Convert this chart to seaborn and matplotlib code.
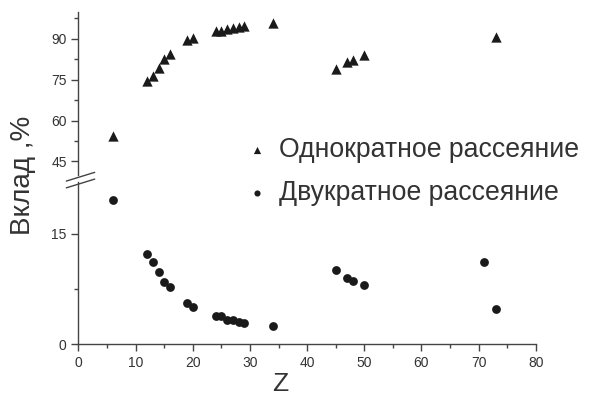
import matplotlib.pyplot as plt
import seaborn as sns
from matplotlib.ticker import MultipleLocator

sns.set_style('ticks')
plt.rcParams['font.family'] = ['Liberation Sans', 'DejaVu Sans']

# Однократное рассеяние (треугольники)
z_single   = [6, 12, 13, 14, 15, 16, 19, 20, 24, 25, 26, 27, 28, 29, 34, 45, 47, 48, 50, 73]
val_single = [54.3, 74.4, 76.2, 79.3, 82.6, 84.4, 89.4, 90.2, 93.0, 93.0, 93.6, 94.0, 94.4, 94.6, 95.7,
              78.9, 81.6, 82.3, 83.9, 90.8]

# Двукратное рассеяние (кружки)
z_double   = [6, 12, 13, 14, 15, 16, 19, 20, 24, 25, 26, 27, 28, 29, 34, 45, 47, 48, 50, 71, 73]
val_double = [19.5, 12.2, 11.2, 9.85, 8.4, 7.8, 5.6, 5.1, 3.85, 3.85, 3.35, 3.27, 3.04, 2.9, 2.5,
              10.1, 9.0, 8.55, 8.0, 11.2, 4.75]

lab_single = 'Однократное рассеяние'
lab_double = 'Двукратное рассеяние'

fig = plt.figure(figsize=(5.92, 3.98), dpi=100)
ax_top = fig.add_axes([0.1326, 0.560, 0.7724, 0.411])
ax_bot = fig.add_axes([0.1326, 0.135, 0.7724, 0.408])

col = '#1a1a1a'
sns.scatterplot(x=z_single, y=val_single, marker='^', s=55, color=col, edgecolor=col,
                linewidth=0, ax=ax_top, label=lab_single, legend=False)
sns.scatterplot(x=z_double, y=val_double, marker='o', s=40, color=col, edgecolor=col,
                linewidth=0, ax=ax_bot, label=lab_double, legend=False)

ax_top.set_xlim(0, 80)
ax_bot.set_xlim(0, 80)
ax_top.set_ylim(40, 100)
ax_bot.set_ylim(0, 22)

ax_top.set_yticks([45, 60, 75, 90])
ax_top.yaxis.set_minor_locator(MultipleLocator(7.5))
ax_bot.set_yticks([0, 15])
ax_bot.yaxis.set_minor_locator(MultipleLocator(7.5))
ax_bot.xaxis.set_major_locator(MultipleLocator(10))
ax_bot.xaxis.set_minor_locator(MultipleLocator(5))

edge = '#444444'
for ax in (ax_top, ax_bot):
    for s in ('top', 'right'):
        ax.spines[s].set_visible(False)
    for s in ('left', 'bottom'):
        ax.spines[s].set_color(edge)
        ax.spines[s].set_linewidth(1.0)
    ax.tick_params(which='major', length=5, width=1, color=edge, labelsize=10, labelcolor='#333333')
    ax.tick_params(which='minor', length=3, width=1, color=edge)
    ax.set_ylabel('')
    ax.set_xlabel('')

ax_top.spines['bottom'].set_visible(False)
ax_top.tick_params(axis='x', which='both', bottom=False, labelbottom=False)

# знак разрыва оси
kw = dict(transform=fig.transFigure, color=edge, lw=1.0, clip_on=False)
fig.add_artist(plt.Line2D([0.112, 0.160], [0.545, 0.567], **kw))
fig.add_artist(plt.Line2D([0.112, 0.160], [0.528, 0.550], **kw))

fig.text(0.473, 0.004, 'Z', fontsize=19, color='#333333', va='bottom', ha='center')
fig.text(0.039, 0.56, 'Вклад ,%', rotation=90, fontsize=20, color='#333333', va='center', ha='center')

h1, l1 = ax_top.get_legend_handles_labels()
h2, l2 = ax_bot.get_legend_handles_labels()
fig.legend(h1 + h2, l1 + l2, loc='upper left', bbox_to_anchor=(0.393, 0.683), frameon=False,
           fontsize=19.2, labelcolor='#333333', handlelength=1.0, handletextpad=0.32,
           labelspacing=0.64, markerscale=0.7, borderaxespad=0)

fig.savefig('out.png', dpi=100)
